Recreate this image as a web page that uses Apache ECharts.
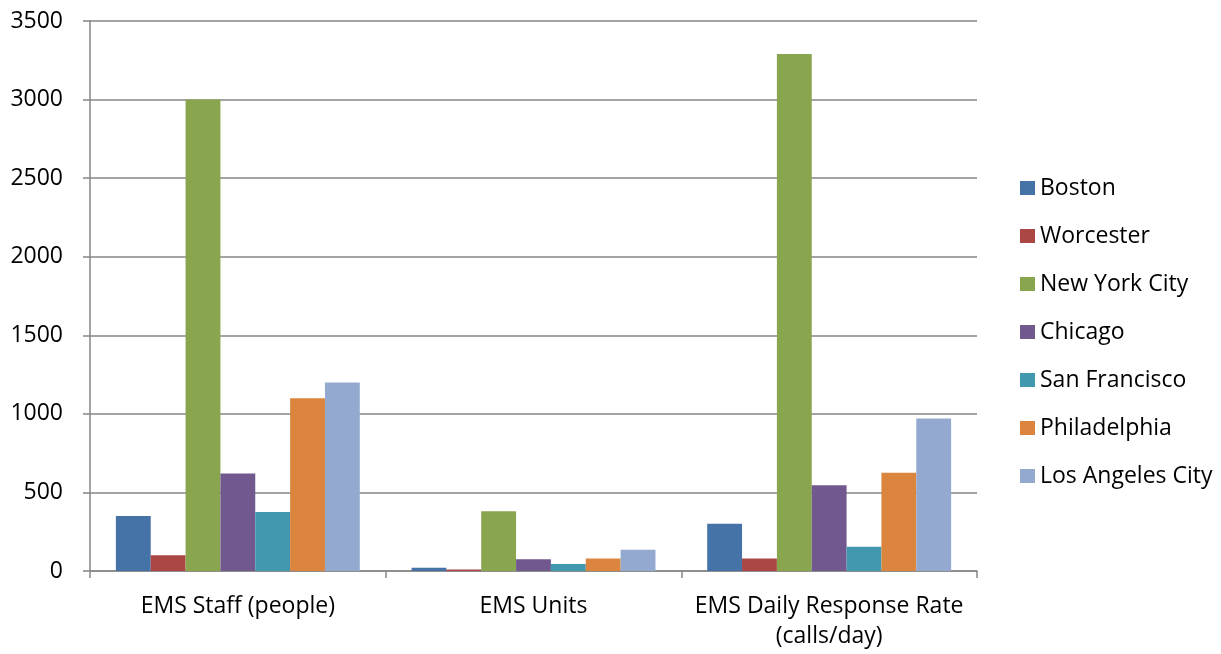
<!DOCTYPE html>
<html>
<head>
<meta charset="utf-8">
<script src="https://cdn.jsdelivr.net/npm/echarts@6/dist/echarts.min.js"></script>
<style>
  html, body { margin: 0; padding: 0; background: #ffffff; }
  #chart { width: 1221px; height: 654px; }
</style>
</head>
<body>
<div id="chart"></div>
<script>
// Metric groups shown along the x axis
const categories = ['EMS Staff (people)', 'EMS Units', 'EMS Daily Response Rate\n(calls/day)'];

// One value per metric for each city
const boston        = [350, 20, 300];
const worcester     = [100, 10, 80];
const newYorkCity   = [3000, 380, 3290];
const chicago       = [620, 75, 545];
const sanFrancisco  = [375, 45, 155];
const philadelphia  = [1100, 80, 625];
const losAngeles    = [1200, 135, 970];

const cityNames = ['Boston', 'Worcester', 'New York City', 'Chicago', 'San Francisco', 'Philadelphia', 'Los Angeles City'];
const cityValues = [boston, worcester, newYorkCity, chicago, sanFrancisco, philadelphia, losAngeles];
const cityColors = ['#4572A7', '#AA4643', '#89A54E', '#71588F', '#4198AF', '#DB843D', '#93A9CF'];

const yTicks = { min: 0, max: 3500, interval: 500 };
const FONT = 'Open Sans';

const chart = echarts.init(document.getElementById('chart'), null, { renderer: 'canvas' });

chart.setOption({
  animation: false,
  backgroundColor: '#ffffff',
  textStyle: { fontFamily: FONT },
  grid: { left: 90, top: 21, width: 887, height: 550, containLabel: false },
  legend: {
    orient: 'vertical',
    left: 1020,
    top: 176,
    padding: 0,
    itemWidth: 15,
    itemHeight: 14,
    itemGap: 24,
    icon: 'rect',
    textStyle: { fontFamily: FONT, fontSize: 23, lineHeight: 24, color: '#000000' },
    data: cityNames
  },
  xAxis: {
    type: 'category',
    data: categories,
    axisLine: { lineStyle: { color: '#868686', width: 1.5 } },
    axisTick: { show: true, interval: 0, length: 7, lineStyle: { color: '#868686', width: 1.5 } },
    axisLabel: { interval: 0, fontFamily: FONT, fontSize: 23, color: '#000000', margin: 20, lineHeight: 30 },
    splitLine: { show: false }
  },
  yAxis: {
    type: 'value',
    min: yTicks.min,
    max: yTicks.max,
    interval: yTicks.interval,
    axisLine: { show: true, lineStyle: { color: '#868686', width: 1.5 } },
    axisTick: { show: true, length: 7, lineStyle: { color: '#868686', width: 1.5 } },
    axisLabel: { fontFamily: FONT, fontSize: 23, color: '#000000', margin: 27, formatter: v => String(v) },
    splitLine: { show: true, lineStyle: { color: '#868686', width: 1.5 } }
  },
  series: cityNames.map((name, i) => ({
    name: name,
    type: 'bar',
    data: cityValues[i],
    barGap: '0%',
    barCategoryGap: '17.5%',
    itemStyle: { color: cityColors[i] }
  }))
});
</script>
</body>
</html>
